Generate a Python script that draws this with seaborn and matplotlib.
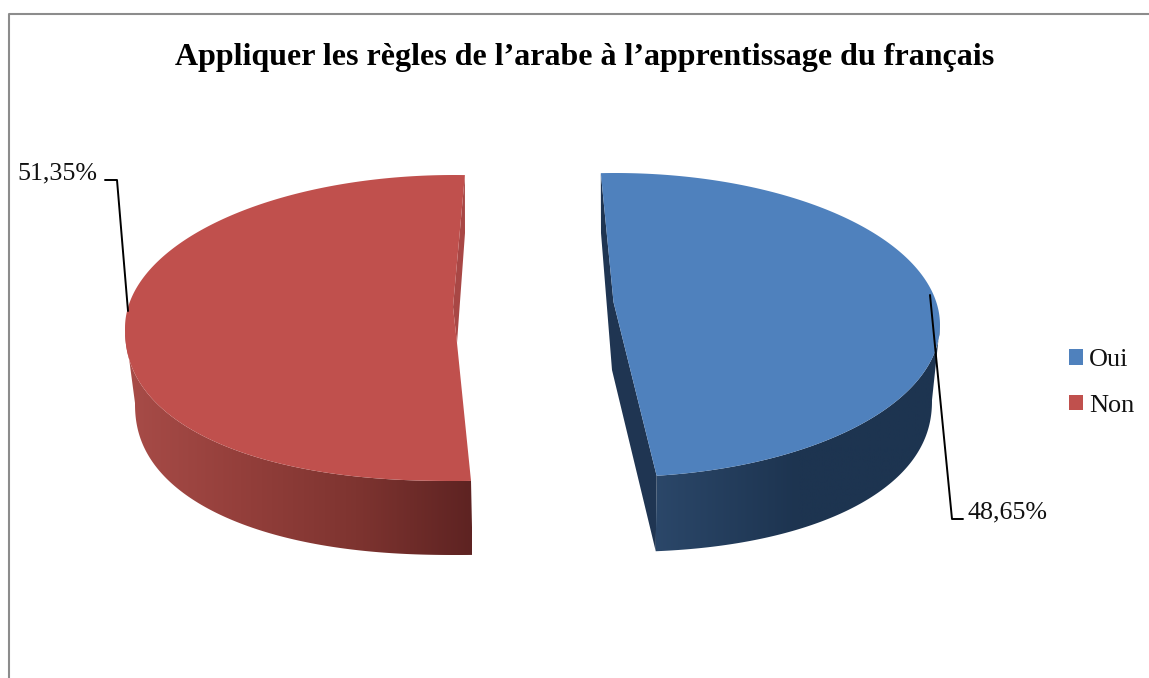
import matplotlib
matplotlib.use('Agg')
import matplotlib.pyplot as plt
from matplotlib.colors import LinearSegmentedColormap
from matplotlib.patches import Patch, Polygon
import numpy as np
import seaborn as sns

categories = ['Oui', 'Non']
values = [48.65, 51.35]
value_labels = ['48,65%', '51,35%']
title = 'Appliquer les règles de l’arabe à l’apprentissage du français'

sns.set_theme(style='white')
plt.rcParams['font.family'] = ['Liberation Serif', 'DejaVu Serif']
palette = sns.color_palette(['#4F81BD', '#C0504D'])

# pixel-like axes so the fake 3d geometry is easy to tune
fig, ax = plt.subplots(figsize=(11.49, 6.78), dpi=100)
ax.set_position([0, 0, 1, 1])
ax.set_axis_off()


def arc(cx, cy, a, b, t0, t1, n_low=2.0, n=200):
    # ellipse arc, the front half can bulge a bit (n_low > 2) like the original
    t = np.radians(np.linspace(t0, t1, n))
    c, s = np.cos(t), np.sin(t)
    p = np.where(s < 0, n_low, 2.0)
    r = (np.abs(c) ** p + np.abs(s) ** p) ** (-1 / p)
    return np.column_stack([cx + a * r * c, cy - b * r * s])


def band(top, low, colors, x0, x1):
    # side wall of a slice, horizontal gradient clipped to the wall shape
    cmap = LinearSegmentedColormap.from_list('side', colors)
    im = ax.imshow(np.linspace(0, 1, 256)[None, :], cmap=cmap, aspect='auto',
                   extent=(x0, x1, 600, 300), zorder=1)
    clip = Polygon(np.vstack([top, low[::-1]]), transform=ax.transData)
    im.set_clip_path(clip)


spans = [v / sum(values) * 360 for v in values]

# Oui: starts a little past 12 o'clock, runs clockwise
start = 92.5
end = start - spans[0]
face = arc(615, 325, 325, 152, start, end)
low = arc(615, 400, 317, 152, end, 0, n_low=2.2)
band(arc(615, 325, 325, 152, end, 0), low, ['#2B4769', '#1D3450', '#1D3450'], 655, 940)
wall = [face[0], (601, 233), (612, 370), low[0], face[-1], (613.5, 302)]
ax.fill(*zip(*wall), color='#1F3552', lw=0, zorder=2)
ax.fill(*zip(*np.vstack([face, [(613.5, 302)]])), color=palette[0], lw=0, zorder=3)

# Non: continues round the other side, nudged for the perspective
start = end - 4.4
end = start - spans[1]
face = arc(454, 328, 329, 153, start, end, n_low=2.25)
low = arc(456, 403, 321, 152, -180, start, n_low=2.25)
band(arc(454, 328, 329, 153, -180, start, n_low=2.25), low,
     ['#A84C48', '#943F3B', '#7E3430', '#5E2322'], 125, 472)
wall = [face[-1], (465, 233), (457, 343), (453, 307)]
ax.fill(*zip(*wall), color='#A84745', lw=0, zorder=2)
ax.fill(*zip(*np.vstack([face, [(453, 307), (457, 343)]])), color=palette[1], lw=0, zorder=3)

ax.set_xlim(0, 1149)
ax.set_ylim(678, 0)

# chart frame, only top and left show in the crop
ax.plot([8.5, 8.5, 1149], [678, 13.5, 13.5], color='#8C8C8C', lw=1.5, zorder=1)

# leader lines
ax.plot([930, 952, 963], [295, 519, 519], color='black', lw=1.4, zorder=4)
ax.plot([105, 117, 128], [180, 180, 311], color='black', lw=1.4, zorder=4)

ax.text(968, 512, value_labels[0], fontsize=18.7, color='#111111', va='center', ha='left')
ax.text(17, 173, value_labels[1], fontsize=18.7, color='#111111', va='center', ha='left')
ax.text(585, 57, title, fontsize=23, fontweight='bold', color='black', va='center', ha='center')

handles = [Patch(color=c, lw=0) for c in palette]
ax.legend(handles, categories, loc='center left', bbox_to_anchor=(1069 / 1149, 1 - 383 / 678),
          frameon=False, fontsize=18.9, handlelength=0.533, handleheight=0.533,
          handletextpad=0.23, labelspacing=0.89, labelcolor='#111111', borderpad=0, borderaxespad=0)

fig.savefig('out.png', dpi=100)
